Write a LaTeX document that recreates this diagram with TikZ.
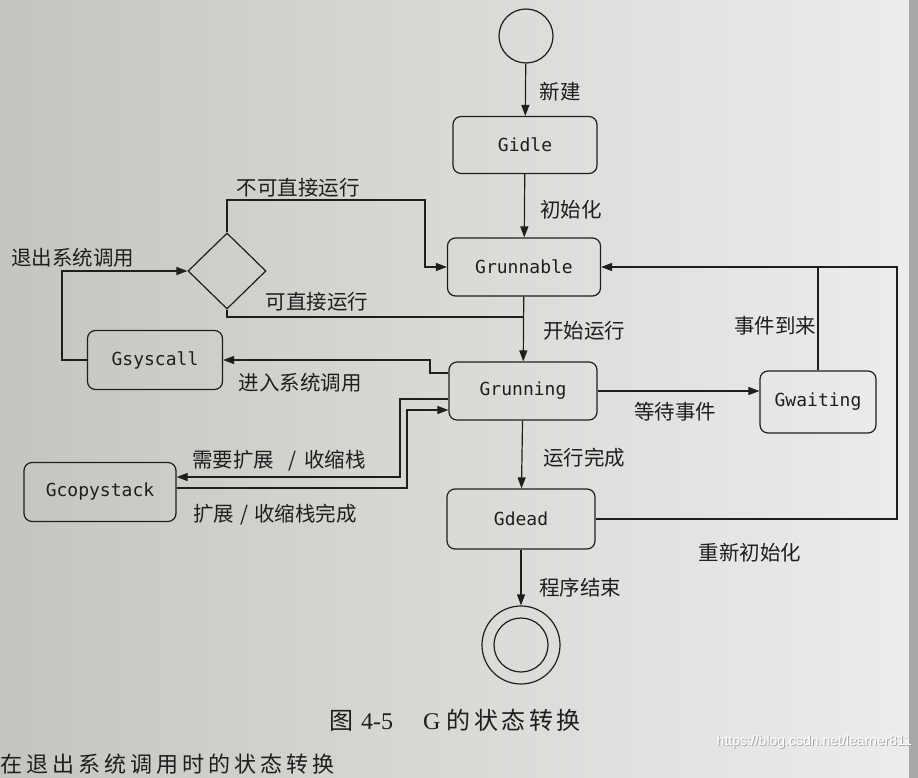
\documentclass[tikz,border=0pt]{standalone}
\usepackage{fontspec}
\setmainfont{Liberation Serif}
\newfontfamily\cjk{Noto Sans CJK SC}
\newfontfamily\monof{DejaVu Sans Mono}
\newfontfamily\wmf{Liberation Sans}
\usetikzlibrary{arrows.meta,shapes.geometric,calc}
\definecolor{ink}{RGB}{30,30,30}
\definecolor{paperL}{RGB}{198,196,193}
\definecolor{paperM}{RGB}{218,217,214}
\definecolor{paperR}{RGB}{236,236,236}
\definecolor{edge}{RGB}{168,168,168}
\tikzset{
  state/.style={draw=ink, line width=1.2pt, rounded corners=8pt, inner sep=0pt,
    font=\monof\fontsize{18}{21}\selectfont, text=ink},
  lab/.style={font=\cjk\fontsize{20.5}{24}\selectfont, text=ink, inner sep=0pt},
  conn/.style={draw=ink, line width=1.2pt},
  arr/.style={conn, -{Triangle[length=11pt,width=8pt]}},
}
\begin{document}
\begin{tikzpicture}[x=1pt,y=-1pt]
\useasboundingbox (0,0) rectangle (918,778);
% paper
\shade[left color=paperL, right color=paperR, middle color=paperM] (0,0) rectangle (905,778);
\fill[paperR] (880,0) rectangle (909,778);
\fill[edge] (909,0) rectangle (918,778);

% states
\node[circle, draw=ink, line width=1.2pt, minimum size=54pt, inner sep=0pt] (start) at (526,36) {};
\node[state, minimum width=144pt, minimum height=57pt] (gidle) at (525,145) {Gidle};
\node[state, minimum width=153pt, minimum height=58pt] (grunnable) at (524,267) {Grunnable};
\node[state, minimum width=148pt, minimum height=58pt] (grunning) at (523,391) {Grunning};
\node[state, minimum width=148pt, minimum height=60pt] (gdead) at (521,519) {Gdead};
\node[state, minimum width=116pt, minimum height=62pt] (gwaiting) at (818,402) {Gwaiting};
\node[state, minimum width=135pt, minimum height=59pt] (gsyscall) at (155,360) {Gsyscall};
\node[state, minimum width=152pt, minimum height=59pt] (gcopystack) at (100,492) {Gcopystack};
\node[diamond, draw=ink, line width=1.2pt, minimum width=78pt, minimum height=76pt, inner sep=0pt] (dec) at (227,271) {};
\node[circle, draw=ink, line width=1.2pt, minimum size=78pt, inner sep=0pt] (endst) at (521,645) {};
\node[circle, draw=ink, line width=1.2pt, minimum size=54pt, inner sep=0pt] (endin) at (endst.center) {};

% helper coordinates
\coordinate (j1) at (523.5,317);
\coordinate (k1) at (425,200);
\coordinate (k2) at (62,271);
\coordinate (k3) at (430,373);
\coordinate (k4) at (400,399);
\coordinate (k5) at (400,477);
\coordinate (k6) at (407,488);
\coordinate (k7) at (407,410);
\coordinate (k9) at (897,267);

% connectors
\draw[arr] (start) -- (gidle);
\draw[arr] (gidle) -- (grunnable);
\draw[arr] (grunnable) -- (grunning);
\draw[arr] (grunning) -- (gdead);
\draw[arr] (gdead) -- (endst);
\draw[arr] (grunning.east) -- (grunning.east -| gwaiting.west);
\draw[conn] (gwaiting.north) -- (gwaiting.north |- k9);
\draw[arr] (gdead.east) -| (k9) -- (grunnable.east);
\draw[arr] (dec.north) |- (k1) |- (grunnable.west);
\draw[conn] (dec.south) |- (j1);
\draw[arr] (gsyscall.west) -| (k2) -- (dec.west);
\draw[arr] (grunning.west |- k3) -- (k3) |- (gsyscall.east);
\draw[arr] (grunning.west |- k4) -- (k4) -- (k5) -- (gcopystack.east |- k5);
\draw[arr] (gcopystack.east |- k6) -- (k6) -- (k7) -- (grunning.west |- k7);

% labels
\node[lab] (l1) at (560,92) {新建};
\node[lab] (l2) at (571,210) {初始化};
\node[lab] (l3) at (584,331) {开始运行};
\node[lab] (l4) at (584,458) {运行完成};
\node[lab] (l5) at (580,588) {程序结束};
\node[lab] (l6) at (675,412) {等待事件};
\node[lab] (l7) at (775,326) {事件到来};
\node[lab] (l8) at (750,553) {重新初始化};
\node[lab] (l9) at (300,383) {进入系统调用};
\node[lab] (l10) at (73,258) {退出系统调用};
\node[lab] (l11) at (298,188) {不可直接运行};
\node[lab] (l12) at (317,302) {可直接运行};
\node[lab, anchor=west] (l13) at (192,461) {需要扩展\hspace{14pt}/\hspace{8pt}收缩栈};
\node[lab, anchor=west] (l14) at (193,515) {扩展\hspace{6pt}/\hspace{6pt}收缩栈完成};

% caption
\node[anchor=west, inner sep=0pt, text=ink, font=\fontsize{24}{28}\selectfont] (cap) at (329,720)
  {{\cjk 图}\hspace{8pt}4-5\hspace{30pt}G\hspace{6pt}{\cjk 的\hspace{3.5pt}状\hspace{3.5pt}态\hspace{3.5pt}转\hspace{3.5pt}换}};
% body text line at the page foot
\node[anchor=west, inner sep=0pt, text=ink, font=\cjk\fontsize{22}{26}\selectfont] (body) at (0,764)
  {在\hspace{4pt}退\hspace{4pt}出\hspace{4pt}系\hspace{4pt}统\hspace{4pt}调\hspace{4pt}用\hspace{4pt}时\hspace{4pt}的\hspace{4pt}状\hspace{4pt}态\hspace{4pt}转\hspace{4pt}换};
% watermark
\node[anchor=east, inner sep=0pt, text=gray!70, font=\wmf\fontsize{14}{16}\selectfont] (wm0) at (913,743) {https://blog.csdn.net/learner811};
\node[anchor=east, inner sep=0pt, text=white, font=\wmf\fontsize{14}{16}\selectfont] (wm) at (912,742) {https://blog.csdn.net/learner811};
\end{tikzpicture}
\end{document}
